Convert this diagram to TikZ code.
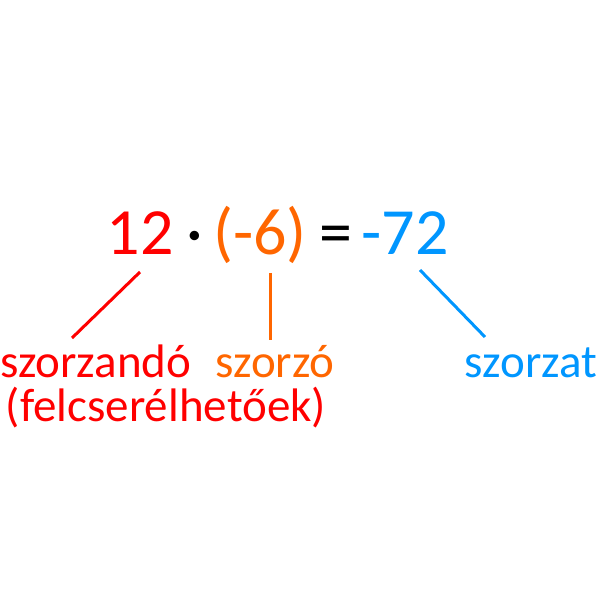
\documentclass[tikz,border=0pt]{standalone}
\usepackage{fontspec}
\setmainfont{Carlito}
\definecolor{szred}{RGB}{255,0,0}
\definecolor{szorange}{RGB}{255,102,0}
\definecolor{szblue}{RGB}{0,150,255}
\tikzset{
  eq/.style={inner sep=0pt,anchor=base,font=\fontsize{66}{70}\selectfont},
  lbl/.style={inner sep=0pt,anchor=base,font=\fontsize{47}{52}\selectfont},
  leg/.style={line width=3pt}
}
\begin{document}
\begin{tikzpicture}[x=1pt,y=1pt]
    \useasboundingbox (0,0) rectangle (600,600);
    % the product
    \node[eq,text=szred] (twelve) at (140,345) {12};
    \node[eq] (dot) at (195,345) {·};
    \node[eq,text=szorange] (six) at (260,345) {(-6)};
    \node[eq] (eqs) at (336,345) {=};
    \node[eq,text=szblue] (prod) at (405,345) {-72};
    % the names
    \node[lbl,text=szred,anchor=base west] (mult) at (0,222) {szorzandó};
    \node[lbl,text=szred] (swap) at (166,178) {(felcserélhetőek)};
    \node[lbl,text=szorange] (fact) at (275,222) {szorzó};
    \node[lbl,text=szblue] (res) at (531,222) {szorzat};
    % legs
    \coordinate (a1) at (140,328);
    \coordinate (a2) at (72,262);
    \coordinate (b1) at (270,327);
    \coordinate (b2) at (270,260);
    \coordinate (c1) at (420,330);
    \coordinate (c2) at (485,263);
    \draw[leg,szred] (a1) -- (a2);
    \draw[leg,szorange] (b1) -- (b2);
    \draw[leg,szblue] (c1) -- (c2);
\end{tikzpicture}
\end{document}
